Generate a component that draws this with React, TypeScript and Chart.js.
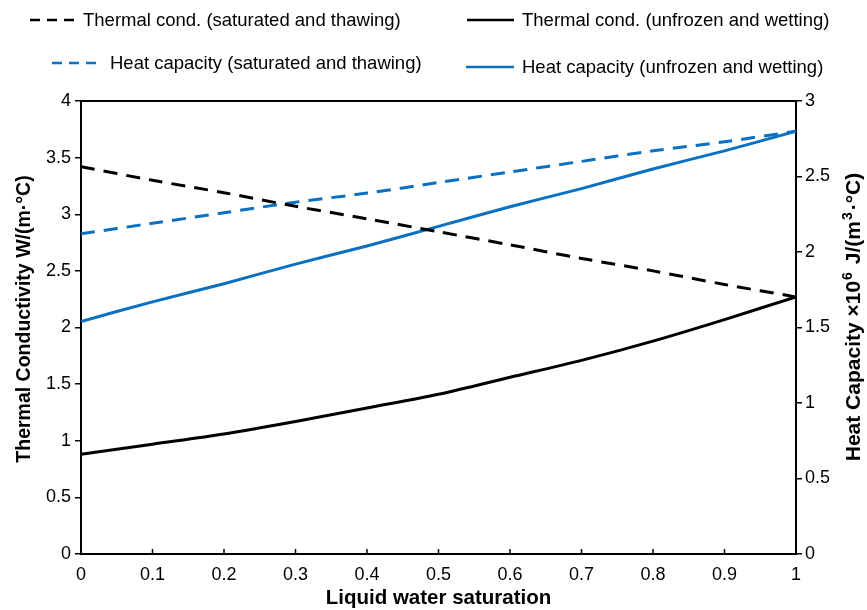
import React, { useEffect, useRef } from "react";
import { Chart, registerables } from "chart.js";
Chart.register(...registerables);

const saturation = [0, 0.1, 0.2, 0.3, 0.4, 0.5, 0.6, 0.7, 0.8, 0.9, 1];
const kSatThaw = [3.42, 3.3, 3.19, 3.07, 2.96, 2.845, 2.73, 2.61, 2.5, 2.38, 2.27];
const kUnfrozen = [0.88, 0.97, 1.06, 1.17, 1.29, 1.41, 1.56, 1.71, 1.88, 2.07, 2.27];
const cSatThaw = [2.12, 2.19, 2.26, 2.33, 2.39, 2.46, 2.53, 2.6, 2.67, 2.73, 2.8];
const cUnfrozen = [1.54, 1.67, 1.79, 1.92, 2.04, 2.17, 2.3, 2.42, 2.55, 2.67, 2.8];
const legendLabels = [
  "Thermal cond. (saturated and thawing)",
  "Thermal cond. (unfrozen and wetting)",
  "Heat capacity (saturated and thawing)",
  "Heat capacity (unfrozen and wetting)",
];
const xTitle = "Liquid water saturation";
const yTitle = "Thermal Conductivity W/(m·°C)";
// right title pieces: [text, superscript?]
const y2TitleParts: [string, boolean][] = [
  ["Heat Capacity ×10", false],
  ["6", true],
  [" J/(m", false],
  ["3", true],
  ["·°C)", false],
];

const BLUE = "#0a70c2";
const FONT = "'Liberation Sans', Arial, Helvetica, sans-serif";

export default function App() {
  const ref = useRef<HTMLCanvasElement>(null);
  useEffect(() => {
    document.body.style.margin = "0";
    const toPts = (ys: number[]) => saturation.map((x, i) => ({ x, y: ys[i] }));
    const fmt = (v: any) => String(Math.round(Number(v) * 10) / 10);

    const framePlugin = {
      id: "frame",
      afterDraw(chart: any) {
        const { ctx, chartArea: a, scales } = chart;
        ctx.save();
        ctx.strokeStyle = "#000";
        ctx.lineWidth = 2;
        ctx.beginPath();
        ctx.moveTo(a.left, a.top);
        ctx.lineTo(a.right, a.top);
        ctx.stroke();
        // inward x ticks
        ctx.lineWidth = 1.5;
        saturation.forEach((v) => {
          const px = scales.x.getPixelForValue(v);
          ctx.beginPath();
          ctx.moveTo(px, a.bottom);
          ctx.lineTo(px, a.bottom - 5);
          ctx.stroke();
        });
        // legend
        const items = [
          { x1: 30, x2: 76, tx: 83, y: 20, color: "#000", dash: [10, 7], text: legendLabels[0] },
          { x1: 467, x2: 514, tx: 522, y: 20, color: "#000", dash: [], text: legendLabels[1] },
          { x1: 52, x2: 98, tx: 110, y: 63, color: BLUE, dash: [10, 7], text: legendLabels[2] },
          { x1: 466, x2: 514, tx: 522, y: 67, color: BLUE, dash: [], text: legendLabels[3] },
        ];
        ctx.font = `18.5px ${FONT}`;
        ctx.textBaseline = "middle";
        ctx.textAlign = "left";
        items.forEach((it) => {
          ctx.strokeStyle = it.color;
          ctx.lineWidth = 2.5;
          ctx.setLineDash(it.dash);
          ctx.beginPath();
          ctx.moveTo(it.x1, it.y);
          ctx.lineTo(it.x2, it.y);
          ctx.stroke();
          ctx.setLineDash([]);
          ctx.fillStyle = "#000";
          ctx.fillText(it.text, it.tx, it.y + 1);
        });
        // axis titles
        ctx.fillStyle = "#000";
        ctx.font = `bold 20.5px ${FONT}`;
        ctx.textAlign = "center";
        ctx.fillText(xTitle, (a.left + a.right) / 2, 598);
        ctx.textBaseline = "alphabetic";
        ctx.save();
        ctx.translate(30, 319);
        ctx.rotate(-Math.PI / 2);
        ctx.font = `bold 19.5px ${FONT}`;
        ctx.fillText(yTitle, 0, 0);
        ctx.restore();
        // right title, rotated -90, with superscripts
        ctx.save();
        ctx.translate(860, 317);
        ctx.rotate(-Math.PI / 2);
        const big = `bold 21px ${FONT}`;
        const small = `bold 14px ${FONT}`;
        let total = 0;
        y2TitleParts.forEach(([t, sup]) => {
          ctx.font = sup ? small : big;
          total += ctx.measureText(t).width + (sup ? 3 : 0);
        });
        let cx = -total / 2;
        ctx.textAlign = "left";
        y2TitleParts.forEach(([t, sup]) => {
          ctx.font = sup ? small : big;
          ctx.fillText(t, cx + (sup ? 1 : 0), sup ? -8 : 0);
          cx += ctx.measureText(t).width + (sup ? 3 : 0);
        });
        ctx.restore();
        ctx.restore();
      },
    };

    const tickFont = { family: FONT, size: 18 };
    const chart = new Chart(ref.current!, {
      type: "line",
      data: {
        datasets: [
          { label: legendLabels[0], data: toPts(kSatThaw), yAxisID: "y", borderColor: "#000", borderDash: [14, 9], borderWidth: 3, pointRadius: 0, tension: 0.3 },
          { label: legendLabels[1], data: toPts(kUnfrozen), yAxisID: "y", borderColor: "#000", borderWidth: 3, pointRadius: 0, tension: 0.3 },
          { label: legendLabels[2], data: toPts(cSatThaw), yAxisID: "y2", borderColor: BLUE, borderDash: [14, 9], borderWidth: 3, pointRadius: 0, tension: 0.3 },
          { label: legendLabels[3], data: toPts(cUnfrozen), yAxisID: "y2", borderColor: BLUE, borderWidth: 3, pointRadius: 0, tension: 0.3 },
        ],
      },
      options: {
        responsive: false,
        animation: false,
        layout: { padding: { top: 101, left: 0, right: 0, bottom: 0 } },
        plugins: { legend: { display: false }, tooltip: { enabled: false } },
        scales: {
          x: {
            type: "linear",
            min: 0,
            max: 1,
            ticks: { stepSize: 0.1, color: "#000", font: tickFont, padding: 10, callback: fmt, maxRotation: 0 },
            grid: { display: true, drawOnChartArea: false, tickLength: 0, color: "#000" },
            border: { display: true, color: "#000", width: 2 },
            afterFit(s: any) { s.height = 56; },
          },
          y: {
            position: "left",
            min: 0,
            max: 4,
            ticks: { stepSize: 0.5, color: "#000", font: tickFont, padding: 4, callback: fmt },
            grid: { display: true, drawOnChartArea: false, tickLength: 6, color: "#000", lineWidth: 1.5 },
            border: { display: true, color: "#000", width: 2 },
            afterFit(s: any) { s.width = 81; },
          },
          y2: {
            position: "right",
            min: 0,
            max: 3,
            ticks: { stepSize: 0.5, color: "#000", font: tickFont, padding: 3, callback: fmt },
            grid: { display: true, drawOnChartArea: false, tickLength: 6, color: "#000", lineWidth: 1.5 },
            border: { display: true, color: "#000", width: 2 },
            afterFit(s: any) { s.width = 71; },
          },
        },
      } as any,
      plugins: [framePlugin],
    });
    return () => chart.destroy();
  }, []);
  return <canvas ref={ref} width={867} height={610} style={{ display: "block" }} />;
}
